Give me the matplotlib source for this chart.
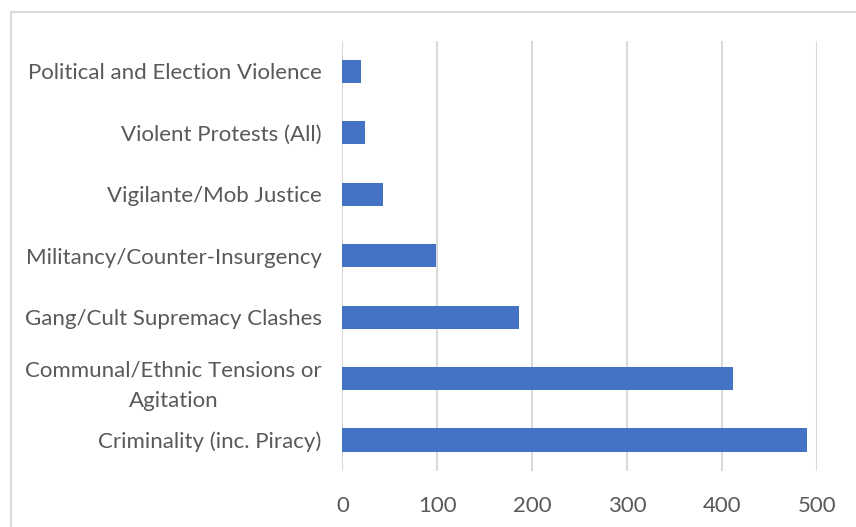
import matplotlib.pyplot as plt
from matplotlib.lines import Line2D

# categories listed top to bottom as they appear
categories = ['Political and Election Violence',
              'Violent Protests (All)',
              'Vigilante/Mob Justice',
              'Militancy/Counter-Insurgency',
              'Gang/Cult Supremacy Clashes',
              'Communal/Ethnic Tensions or\nAgitation',
              'Criminality (inc. Piracy)']
values = [20, 24, 43, 99, 186, 411, 489]
xticks = [0, 100, 200, 300, 400, 500]

bar_color = '#4472C4'
grid_color = '#D9D9D9'
text_color = '#595959'

plt.rcParams['font.family'] = ['Lato', 'DejaVu Sans']

fig = plt.figure(figsize=(8.56, 5.27), dpi=100)
ax = fig.add_axes([0.4001, 0.1068, 0.9544 - 0.4001, 0.9226 - 0.1068])

pos = list(range(len(categories)))
ax.barh(pos, values, height=0.375, color=bar_color, zorder=3)

ax.set_xlim(0, 500)
ax.set_ylim(len(categories) - 0.5, -0.5)
ax.set_xticks(xticks)
ax.set_xticklabels([str(t) for t in xticks])
ax.set_yticks(pos)
ax.set_yticklabels(categories, multialignment='center', linespacing=1.65)

ax.grid(axis='x', color=grid_color, linewidth=1.5, zorder=0)
for s in ax.spines.values():
    s.set_visible(False)
ax.tick_params(axis='both', length=0, labelsize=16, labelcolor=text_color)
ax.tick_params(axis='y', pad=15)
ax.tick_params(axis='x', pad=18)

# chart area border (only top and left visible in the crop)
fig.add_artist(Line2D([11 / 856, 11 / 856], [0, 1 - 12 / 527], color=grid_color, linewidth=1.5))
fig.add_artist(Line2D([11 / 856, 1], [1 - 12 / 527, 1 - 12 / 527], color=grid_color, linewidth=1.5))

plt.savefig('out.png', dpi=100)
